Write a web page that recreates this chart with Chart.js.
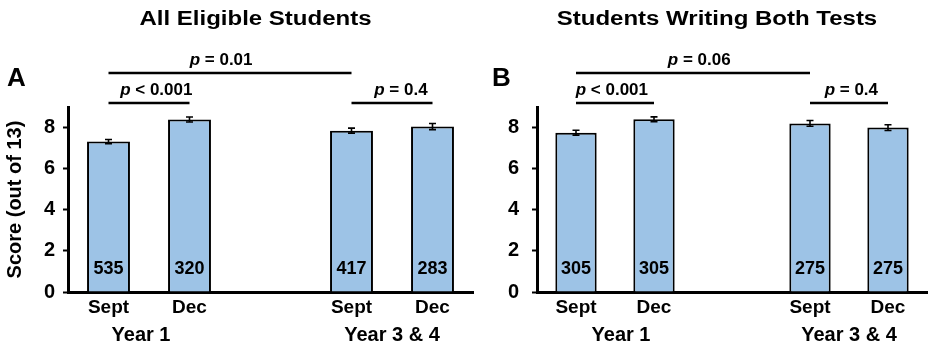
<!DOCTYPE html>
<html>
<head>
<meta charset="utf-8">
<script src="https://cdn.jsdelivr.net/npm/chart.js@4/dist/chart.umd.min.js"></script>
<style>
  html, body { margin: 0; padding: 0; background: #fff; }
  #wrap { position: relative; width: 928px; height: 348px; overflow: hidden; background: #fff; }
  canvas { position: absolute; top: 0; }
  #cA { left: 0; }
  #cB { left: 464px; }
</style>
</head>
<body>
<div id="wrap">
  <canvas id="cA" width="480" height="348"></canvas>
  <canvas id="cB" width="464" height="348"></canvas>
</div>
<script>
// ---- data ----
const categories = ['Sept', 'Dec', '', 'Sept', 'Dec'];
const groupLabels = ['Year 1', 'Year 3 & 4'];
const panelTitles = ['All Eligible Students', 'Students Writing Both Tests'];
const panelLetters = ['A', 'B'];
const yAxisTitle = 'Score (out of 13)';

const scoresA = [7.32, 8.39, null, 7.85, 8.05];
const errorsA = [0.10, 0.12, null, 0.12, 0.15];
const countsA = ['535', '320', null, '417', '283'];
const pValuesA = ['= 0.01', '< 0.001', '= 0.4'];

const scoresB = [7.75, 8.40, null, 8.20, 8.00];
const errorsB = [0.12, 0.12, null, 0.14, 0.14];
const countsB = ['305', '305', null, '275', '275'];
const pValuesB = ['= 0.06', '< 0.001', '= 0.4'];

// ---- styling ----
const FONT = '"Liberation Sans", Arial, Helvetica, sans-serif';
const BAR_FILL = '#9dc3e6';

function drawPText(ctx, rest, cx, baseline, size) {
  ctx.font = 'italic bold ' + size + 'px ' + FONT;
  const wp = ctx.measureText('p').width;
  ctx.font = 'bold ' + size + 'px ' + FONT;
  const wr = ctx.measureText(' ' + rest).width;
  const x0 = cx - (wp + wr) / 2;
  ctx.textAlign = 'left';
  ctx.textBaseline = 'alphabetic';
  ctx.font = 'italic bold ' + size + 'px ' + FONT;
  ctx.fillText('p', x0, baseline);
  ctx.font = 'bold ' + size + 'px ' + FONT;
  ctx.fillText(' ' + rest, x0 + wp, baseline);
}

const annotPlugin = {
  id: 'annot',
  afterDatasetsDraw(chart, args, o) {
    const ctx = chart.ctx;
    const ys = chart.scales.y;
    const meta = chart.getDatasetMeta(0);
    ctx.save();
    ctx.strokeStyle = '#000';
    ctx.fillStyle = '#000';
    // error bars
    o.errors.forEach((e, i) => {
      const v = o.scores[i];
      if (v == null || e == null) return;
      const x = meta.data[i].x;
      const yT = ys.getPixelForValue(v + e), yB = ys.getPixelForValue(v - e);
      ctx.lineWidth = 1.6;
      ctx.beginPath();
      ctx.moveTo(x, yT); ctx.lineTo(x, yB);
      ctx.moveTo(x - 3.5, yT); ctx.lineTo(x + 3.5, yT);
      ctx.moveTo(x - 3.5, yB); ctx.lineTo(x + 3.5, yB);
      ctx.stroke();
    });
    // counts inside bars
    ctx.font = 'bold 18px ' + FONT;
    ctx.textAlign = 'center';
    ctx.textBaseline = 'middle';
    o.counts.forEach((c, i) => {
      if (c == null) return;
      ctx.fillText(c, meta.data[i].x, ys.getPixelForValue(1.14));
    });
    ctx.restore();
  },
  afterDraw(chart, args, o) {
    const ctx = chart.ctx;
    const xs = chart.scales.x, ys = chart.scales.y;
    ctx.save();
    ctx.fillStyle = '#000';
    ctx.strokeStyle = '#000';
    // brackets
    o.brackets.forEach(b => {
      const x1 = xs.getPixelForValue(b.from), x2 = xs.getPixelForValue(b.to);
      const y = ys.getPixelForValue(b.y);
      ctx.lineWidth = 2.5;
      ctx.beginPath();
      ctx.moveTo(x1, y); ctx.lineTo(x2, y);
      ctx.stroke();
      drawPText(ctx, b.text, xs.getPixelForValue(b.textAt), y - 8, 17);
    });
    // group labels
    ctx.font = 'bold 20px ' + FONT;
    ctx.textAlign = 'center';
    ctx.textBaseline = 'middle';
    o.groups.forEach(g => {
      const x = (xs.getPixelForValue(g.a) + xs.getPixelForValue(g.b)) / 2 + (g.dx || 0);
      ctx.fillText(g.text, x, chart.chartArea.bottom + 43);
    });
    // title (horizontally widened like the reference lettering)
    ctx.save();
    ctx.font = 'bold 20px ' + FONT;
    ctx.textAlign = 'center';
    ctx.textBaseline = 'middle';
    ctx.translate((chart.chartArea.left + chart.chartArea.right) / 2 - 15, 19);
    ctx.scale(1.2, 1);
    ctx.fillText(o.title, 0, 0);
    ctx.restore();
    // panel letter
    ctx.font = 'bold 26px ' + FONT;
    ctx.textAlign = 'left';
    ctx.textBaseline = 'middle';
    ctx.fillText(o.letter, chart.chartArea.left - o.letterOffset, 79);
    ctx.restore();
  }
};

function makeChart(id, scores, errors, counts, pvals, title, letter, opts) {
  return new Chart(document.getElementById(id), {
    type: 'bar',
    data: {
      labels: categories,
      datasets: [{
        data: scores,
        backgroundColor: BAR_FILL,
        borderColor: '#000',
        borderWidth: 2,
        barPercentage: 0.53,
        categoryPercentage: 1
      }]
    },
    options: {
      responsive: false,
      animation: false,
      devicePixelRatio: 1,
      layout: { padding: { top: 107, right: opts.padRight, left: 0, bottom: 0 } },
      plugins: {
        legend: { display: false },
        tooltip: { enabled: false },
        annot: {
          scores, errors, counts, title, letter,
          letterOffset: opts.letterOffset,
          brackets: [
            { from: 0, to: 3, y: 10.65, text: pvals[0], textAt: opts.topTextAt },
            { from: 0, to: 1, y: 9.19, text: pvals[1], textAt: opts.leftTextAt },
            { from: 3, to: 4, y: 9.19, text: pvals[2], textAt: opts.rightTextAt }
          ],
          groups: [
            { a: 0, b: 1, text: groupLabels[0], dx: opts.g1dx },
            { a: 3, b: 4, text: groupLabels[1], dx: 0 }
          ]
        }
      },
      scales: {
        x: {
          offset: true,
          grid: { display: false, drawTicks: false },
          border: { display: true, color: '#000', width: 3 },
          ticks: { color: '#000', font: { family: FONT, size: 19, weight: 'bold' }, padding: 4, maxRotation: 0, autoSkip: false },
          afterFit(s) { s.height = 56; }
        },
        y: {
          min: 0, max: 9,
          ticks: {
            stepSize: 1,
            color: '#000',
            font: { family: FONT, size: 20, weight: 'bold' },
            padding: opts.tickPad,
            callback: v => (v % 2 === 0 ? String(v) : '')
          },
          grid: { drawOnChartArea: false, drawTicks: true, tickLength: 5, tickWidth: 2, color: '#000' },
          border: { display: true, color: '#000', width: 3 },
          title: {
            display: opts.showYTitle,
            text: yAxisTitle,
            color: '#000',
            font: { family: FONT, size: 20, weight: 'bold' },
            padding: { top: 3, bottom: 0 }
          },
          afterFit(s) { s.width = opts.yWidth; }
        }
      }
    },
    plugins: [annotPlugin]
  });
}

makeChart('cA', scoresA, errorsA, countsA, pValuesA, panelTitles[0], panelLetters[0], {
  padRight: 7, yWidth: 68, tickPad: 8, showYTitle: true, letterOffset: 61,
  topTextAt: 1.39, leftTextAt: 0.59, rightTextAt: 3.61, g1dx: -8
});
makeChart('cB', scoresB, errorsB, countsB, pValuesB, panelTitles[1], panelLetters[1], {
  padRight: 1, yWidth: 73, tickPad: 13, showYTitle: false, letterOffset: 45,
  topTextAt: 1.58, leftTextAt: 0.46, rightTextAt: 3.53, g1dx: 6
});
</script>
</body>
</html>
